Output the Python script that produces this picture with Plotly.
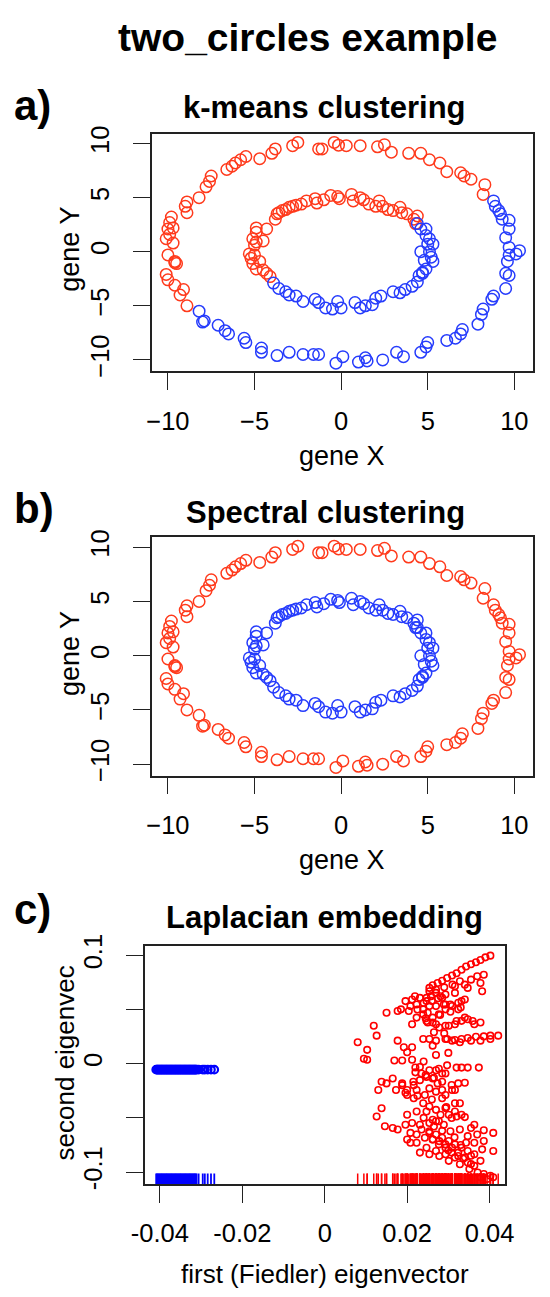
import plotly.graph_objects as go

# ---------------- data: panels a/b (gene X, gene Y) ----------------
# outer ring, points assigned to red cluster by k-means
outer_red_x = [-2.5, -2.8, -3.8, -4.0, -4.7, -5.5, -5.8, -6.1, -6.3, -6.6, -7.5, -7.6, -7.8, -8.2, -8.9, -9.0,
               -8.9, -9.8, -9.9, -10.0, -10.1, -9.7, -10.0, -9.6, -9.5, -10.1, -10.0, -9.6, -9.1, -9.3, -8.9,
               -9.9, -9.7, -9.6,
               -1.3, -1.1, -0.4, -0.15, 0.3, 1.1, 2.1, 2.5, 2.9, 3.9, 4.6, 5.1, 5.7, 6.1, 6.9, 7.1, 7.5, 8.3, 8.2]
outer_red_y = [10.1, 9.8, 9.5, 9.1, 8.6, 8.8, 8.5, 8.2, 7.9, 7.6, 7.0, 6.5, 6.0, 5.0, 4.6, 4.2,
               3.6, 3.2, 2.7, 2.1, 1.2, 0.8, -0.3, -0.9, -1.1, -2.1, -2.6, -3.1, -3.5, -4.0, -5.0,
               1.6, 2.2, -1.0,
               9.5, 9.5, 10.1, 9.85, 9.8, 9.8, 9.7, 9.9, 9.2, 9.1, 9.1, 8.5, 8.2, 7.4, 7.3, 7.0, 6.7, 6.2, 5.3]
# outer ring, points assigned to blue cluster by k-means
outer_blue_x = [8.8, 8.9, 9.1, 9.2, 9.3, 9.7, 9.7, 9.5, 9.7, 10.3, 10.1, 9.7, 9.6, 9.5, 9.7, 9.5, 8.8, 8.7,
                8.2, 8.1, 7.9, 7.0, 6.9, 6.6, 6.1, 5.0, 4.9, 4.6, 3.6, 3.2, 2.4, 1.4, 1.5, 1.0, 0.1, -0.3,
                -1.3, -1.6, -2.2, -3.0, -3.7, -4.6, -4.6, -5.6, -5.5, -6.5, -6.7, -7.1, -7.9, -8.2, -8.0]
outer_blue_y = [4.7, 4.2, 3.8, 3.5, 3.0, 2.9, 2.1, 1.3, 0.4, 0.1, -0.2, -0.3, -0.9, -2.0, -2.2, -3.4, -4.1, -4.4,
                -5.3, -5.8, -6.7, -7.2, -7.6, -8.0, -8.2, -8.4, -8.8, -9.3, -9.7, -9.3, -10.0, -9.8, -10.1, -10.2,
                -9.7, -10.3, -9.5, -9.5, -9.5, -9.3, -9.6, -8.9, -9.3, -8.0, -8.4, -7.6, -7.3, -6.8, -6.4, -5.5, -6.5]
# inner ring, red by k-means
inner_red_x = [-3.7, -3.8, -3.6, -3.4, -3.2, -3.0, -2.8, -2.6, -2.3, -2.0, -1.5, -1.4, -1.0, -0.6, -0.2, -0.1,
               0.6, 0.7, 1.1, 1.3, 1.6, 2.0, 2.2, 2.4, 2.7, 3.0, 3.4, 3.5, 3.8, 4.2, 4.4, 4.3,
               -4.3, -4.9, -4.9, -5.1, -4.9, -4.5, -5.3, -5.0, -5.1, -4.9, -4.5, -4.3, -4.1, -4.7, -5.0, -5.2]
inner_red_y = [3.5, 3.0, 3.6, 3.8, 3.9, 4.1, 4.2, 4.3, 4.4, 4.7, 4.9, 4.5, 4.8, 5.2, 5.1, 4.9,
               5.3, 4.7, 5.0, 4.8, 4.4, 4.2, 4.7, 4.2, 3.9, 3.8, 4.1, 3.6, 3.5, 3.0, 3.3, 2.6,
               2.1, 2.2, 1.8, 1.2, 0.9, 1.0, -0.2, -0.3, -1.1, -1.6, -1.7, -2.0, -2.3, -0.9, 0.6, -0.6]
# inner ring, blue by k-means
inner_blue_x = [-3.9, -3.6, -3.2, -3.0, -2.6, -2.2, -1.5, -1.3, -0.9, -0.5, -0.2, 0.0, 0.8, 1.1, 1.4, 1.8,
                2.0, 2.3, 3.0, 3.4, 3.7, 4.1, 4.4, 4.5, 4.7, 4.9, 4.8, 5.2, 5.3, 5.1, 5.0, 5.3, 4.9, 4.9,
                4.6, 4.4, 4.7, 4.6, 5.1]
inner_blue_y = [-2.9, -3.4, -3.7, -4.0, -4.1, -4.6, -4.4, -4.7, -5.2, -5.3, -4.6, -5.2, -4.7, -5.2, -5.0, -4.9,
                -4.3, -4.1, -3.7, -3.8, -3.5, -3.2, -2.8, -2.2, -1.9, -1.6, -0.8, -0.5, -0.9, 0.0, 0.7, 0.7,
                1.5, 2.1, 2.1, 2.6, -2.0, 0.0, 1.2]

# ---------------- data: panel c (Laplacian embedding) ----------------
fiedler_blue = [-0.0409, -0.0407, -0.0405, -0.0403, -0.0401, -0.0399, -0.0397, -0.0395, -0.0393, -0.0391,
                -0.0389, -0.0387, -0.0385, -0.0383, -0.0381, -0.0379, -0.0377, -0.0375, -0.0373, -0.0371,
                -0.0369, -0.0367, -0.0365, -0.0363, -0.0361, -0.0359, -0.0357, -0.0355, -0.0353, -0.0351,
                -0.0349, -0.0347, -0.0345, -0.0343, -0.0341, -0.0339, -0.0337, -0.0335, -0.0333, -0.0331,
                -0.0329, -0.0327, -0.0325, -0.0323, -0.0321, -0.0319, -0.0317, -0.0315, -0.0313, -0.0311,
                -0.0306, -0.0296, -0.0291, -0.0284, -0.0276, -0.0268]
second_blue = [-0.0055] * len(fiedler_blue)

# red cluster, values in thousandths
fiedler_red_k = [40.2, 39.0, 37.8, 36.7, 35.5, 34.3, 33.2, 32.0, 30.9, 29.7, 28.5, 27.4, 26.2, 25.4, 37.8, 38.2,
                 34.7, 31.6, 29.3, 27.0, 28.1, 25.4, 24.7, 23.1, 21.9, 21.2, 19.6, 22.3, 20.8, 18.5, 17.7, 15.0,
                 20.4, 23.9, 25.4, 27.0, 28.9, 30.5, 32.4, 34.0, 23.9, 22.3, 24.7, 26.2, 21.2, 27.8, 30.1, 32.0,
                 34.0, 35.9, 11.9, 12.6, 17.7, 8.0, 10.3, 9.5, 10.3, 19.2, 21.2, 23.9, 25.4, 27.0, 29.7, 31.6,
                 33.2, 34.7, 36.7, 38.6, 40.2, 42.1, 26.2, 20.0, 16.9, 18.8, 21.2, 23.1, 23.5, 25.4, 27.0, 29.7,
                 32.0, 33.2, 34.7, 37.4, 13.8, 15.0, 16.5, 18.8, 13.0, 17.3, 21.6, 23.1, 24.7, 22.3, 25.4, 27.4,
                 28.5, 30.9, 32.4, 34.0, 20.0, 19.6, 24.3, 21.6, 23.9, 28.5, 31.6, 32.8, 13.8, 12.6, 20.0, 22.3,
                 24.7, 25.4, 27.0, 28.1, 30.1, 32.0, 34.0, 36.3, 14.6, 16.5, 17.7, 19.6, 21.2, 23.1, 25.4, 27.0,
                 28.9, 30.5, 32.8, 34.7, 38.6, 40.9, 20.8, 22.3, 24.3, 26.2, 27.8, 29.3, 30.9, 32.4, 33.6, 34.7,
                 36.3, 37.1, 38.6, 40.2, 40.9, 22.3, 24.7, 27.0, 29.3, 31.6, 36.3, 38.2, 40.9, 34.3, 25.4, 23.5,
                 20.0, 20.8, 23.1, 25.4, 27.8, 30.1, 32.8, 35.1, 37.8, 39.4,
                 26.0, 27.5, 24.0, 22.5, 25.0, 28.0, 30.5, 33.0, 29.0, 31.0, 24.5, 26.5, 29.0, 22.0, 24.5, 26.5,
                 28.5, 22.5, 26.0, 29.5, 24.0, 26.5, 28.5, 31.5, 33.0, 30.0, 35.5, 22.0, 24.0, 27.0, 30.0,
                 24.7, 25.8, 27.0, 28.5, 29.3, 30.9, 32.4, 33.2, 31.6, 32.8, 34.0, 35.5, 37.0, 38.6, 25.0, 27.0,
                 29.3, 31.6, 33.2, 34.7, 36.3, 37.8, 29.3, 30.9, 32.8, 35.5, 37.8, 40.2, 29.3, 27.7, 26.2,
                 25.4, 27.0, 28.5, 30.1, 31.6, 33.2, 34.7, 36.3, 37.8, 26.2, 27.7, 29.3, 30.8, 32.4, 34.0, 35.5,
                 31.6, 33.2, 29.3, 30.8, 27.7, 26.2, 37.0, 38.6, 35.5,
                 27.7, 29.3, 26.2, 28.5, 30.8, 27.0, 29.3, 31.6, 20.0, 18.8, 21.5]
second_red_k = [99.8, 98.2, 95.8, 93.7, 91.8, 89.7, 86.7, 83.6, 81.5, 79.1, 76.6, 74.5, 72.4, 70.0, 74.5, 66.9,
                70.0, 65.4, 63.9, 68.4, 62.3, 66.9, 60.8, 60.8, 62.3, 59.3, 57.8, 54.7, 53.2, 50.2, 48.7, 47.1,
                48.7, 50.2, 53.2, 53.2, 54.7, 54.7, 56.3, 59.3, 45.6, 42.6, 39.5, 38.0, 36.5, 33.5, 35.0, 39.5,
                42.6, 39.5, 35.0, 25.9, 21.3, 19.8, 12.8, 4.6, 3.6, 15.2, 15.2, 22.8, 22.8, 21.3, 22.8, 21.9,
                22.8, 23.7, 24.9, 25.2, 25.9, 25.9, 16.7, 10.6, 3.0, 3.0, 3.6, -3.0, -9.1, -6.1, -6.1, -1.5,
                -3.6, -3.6, -3.6, -3.6, -16.7, -18.2, -13.7, -19.8, -24.3, -24.3, -19.8, -15.2, -12.2, -24.3, -22.8, -18.2,
                -24.3, -24.3, -18.2, -17.6, -28.9, -26.8, -28.9, -31.9, -36.5, -31.9, -36.5, -36.5, -41.1, -48.7, -47.1, -44.1,
                -44.1, -39.5, -42.6, -47.1, -47.1, -48.7, -49.3, -56.3, -57.8, -59.3, -60.8, -56.3, -54.7, -56.3, -54.7, -53.2,
                -56.3, -62.3, -60.8, -66.9, -61.4, -63.9, -63.9, -65.4, -68.4, -70.0, -71.5, -74.5, -77.6, -82.1, -87.6, -91.2,
                -94.3, -100.4, -101.9, -103.4, -104.9, -73.0, -77.6, -80.6, -83.6, -86.7, -73.0, -79.1, -80.6, -73.0, -63.9, -60.8,
                -70.0, -73.0, -82.1, -83.6, -85.2, -89.7, -92.8, -97.3, -104.9, -106.4,
                58.0, 60.5, 56.0, 50.0, 47.0, 45.0, 48.0, 52.0, 70.5, 73.0, 42.0, 29.0, 28.0, -8.0, -10.5, -13.0,
                -9.0, -29.5, -33.0, -40.0, -50.0, -58.0, -62.0, -68.0, -75.0, -80.0, -85.0, -3.5, 2.0, 8.0, 10.0,
                57.8, 62.4, 65.4, 60.9, 54.7, 53.3, 50.2, 57.8, 71.5, 76.1, 73.0, 77.6, 80.7, 82.1, 38.0, 36.5,
                35.0, 36.5, 39.6, 41.1, 36.5, 38.0, 22.8, 21.3, 19.8, 21.3, 21.3, 22.8, 50.2, 45.6, 42.6,
                -62.3, -65.3, -68.4, -71.4, -74.5, -77.5, -80.6, -83.6, -89.7, -69.9, -74.5, -77.5, -82.1, -85.2, -86.7, -92.7,
                -44.1, -47.1, -41.0, -50.2, -53.2, -51.7, -65.3, -71.4, -59.3,
                -4.6, -9.1, -13.7, -16.7, -19.7, -25.8, -28.9, -24.3, -24.3, -18.2, -16.7]
fiedler_red = [v / 1000 for v in fiedler_red_k]
second_red = [v / 1000 for v in second_red_k]
RUG_Y = -0.1072

x_ticks_ab = [-10, -5, 0, 5, 10]
y_ticks_ab = [-10, -5, 0, 5, 10]
x_ticks_c = [-0.04, -0.02, 0, 0.02, 0.04]
x_labels_c = ["-0.04", "-0.02", "0", "0.02", "0.04"]
y_ticks_c = [-0.1, -0.05, 0, 0.05, 0.1]
y_labels_c = ["-0.1", "", "0", "", "0.1"]

RED = "rgb(255,58,28)"
BLUE = "rgb(38,60,252)"
FONT = "Liberation Sans, Arial, Helvetica, sans-serif"

W, H = 550, 1297
OFF = 8  # page body margin shifts the figure by 8 px; positions below are reference pixels


def px(x):
    return (x - OFF) / W


def py(y):
    return 1 - (y - OFF) / H


fig = go.Figure()


def ring(xs, ys, color, ax):
    fig.add_trace(go.Scatter(x=xs, y=ys, mode="markers", xaxis="x" + ax, yaxis="y" + ax,
                             marker=dict(symbol="circle-open", size=11.5, color=color,
                                         line=dict(width=1.5, color=color)),
                             showlegend=False, hoverinfo="skip"))


# panel a: k-means
ring(outer_red_x + inner_red_x, outer_red_y + inner_red_y, RED, "")
ring(outer_blue_x + inner_blue_x, outer_blue_y + inner_blue_y, BLUE, "")
# panel b: spectral
ring(outer_red_x + outer_blue_x, outer_red_y + outer_blue_y, RED, "2")
ring(inner_red_x + inner_blue_x, inner_red_y + inner_blue_y, BLUE, "2")

# panel c
fig.add_trace(go.Scatter(x=fiedler_blue, y=second_blue, mode="markers", xaxis="x3", yaxis="y3",
                         marker=dict(symbol="circle-open", size=7.5, color="#0000ff",
                                     line=dict(width=2.2, color="#0000ff")),
                         showlegend=False, hoverinfo="skip"))
fig.add_trace(go.Scatter(x=fiedler_red, y=second_red, mode="markers", xaxis="x3", yaxis="y3",
                         marker=dict(symbol="circle-open", size=6.5, color="#ff0000",
                                     line=dict(width=1.6, color="#ff0000")),
                         showlegend=False, hoverinfo="skip"))
fig.add_trace(go.Scatter(x=fiedler_blue, y=[RUG_Y] * len(fiedler_blue), mode="markers", xaxis="x3", yaxis="y3",
                         marker=dict(symbol="line-ns", size=9, line=dict(width=1.8, color="#0000ff")),
                         showlegend=False, hoverinfo="skip"))
fig.add_trace(go.Scatter(x=fiedler_red, y=[RUG_Y] * len(fiedler_red), mode="markers", xaxis="x3", yaxis="y3",
                         marker=dict(symbol="line-ns", size=9, line=dict(width=1.5, color="#ff0000")),
                         showlegend=False, hoverinfo="skip"))

tickfont = dict(family=FONT, size=25.5, color="black")
common = dict(showgrid=False, zeroline=False, showline=True, mirror=True, linecolor="#222",
              linewidth=1.6, ticks="outside", ticklen=17, tickwidth=1.4, tickcolor="#222",
              tickfont=tickfont, fixedrange=True)

xdom_ab = [px(143.3), px(541.7)]
fig.update_layout(
    width=W, height=H, margin=dict(l=0, r=0, t=0, b=0),
    paper_bgcolor="white", plot_bgcolor="white",
    xaxis=dict(domain=xdom_ab, range=[-10.94, 11.1], tickvals=x_ticks_ab, anchor="y",
               ticklabelstandoff=9, **common),
    yaxis=dict(domain=[py(364.3), py(123.3)], range=[-11.06, 10.91], tickvals=y_ticks_ab, anchor="x",
               tickangle=-90, ticklabelstandoff=14, **common),
    xaxis2=dict(domain=xdom_ab, range=[-10.94, 11.1], tickvals=x_ticks_ab, anchor="y2",
                ticklabelstandoff=9, **common),
    yaxis2=dict(domain=[py(774.3), py(532.7)], range=[-11.06, 10.91], tickvals=y_ticks_ab, anchor="x2",
                tickangle=-90, ticklabelstandoff=14, **common),
    xaxis3=dict(domain=[px(136), px(512.3)], range=[-0.0437, 0.0438], tickvals=x_ticks_c,
                ticktext=x_labels_c, anchor="y3", ticklabelstandoff=9, **common),
    yaxis3=dict(domain=[py(1188.3), py(946.7)], range=[-0.111, 0.109], tickvals=y_ticks_c,
                ticktext=y_labels_c, anchor="x3", tickangle=-90, ticklabelstandoff=14, **common),
)

anns = []


def text(x, y, s, size, bold=False, angle=0, xanchor="center"):
    anns.append(dict(x=px(x), y=py(y), xref="paper", yref="paper", text=("<b>%s</b>" % s) if bold else s,
                     showarrow=False, textangle=angle, xanchor=xanchor, yanchor="middle",
                     font=dict(family=FONT, size=size, color="black")))


text(306, 26, "two_circles example", 39, bold=True)
text(-2, 95, "a)", 42, bold=True, xanchor="left")
text(324, 97, "k-means clustering", 31, bold=True)
text(342, 450, "gene X", 27)
text(58, 240, "gene Y", 27, angle=-90)
text(-2, 503, "b)", 42, bold=True, xanchor="left")
text(325, 507, "Spectral clustering", 31, bold=True)
text(342, 860, "gene X", 27)
text(58, 650, "gene Y", 27, angle=-90)
text(-2, 910, "c)", 42, bold=True, xanchor="left")
text(324, 918, "Laplacian embedding", 31, bold=True)
text(324, 1280, "first (Fiedler) eigenvector", 26)
text(53, 1066, "second eigenvec", 26, angle=-90)
fig.update_layout(annotations=anns)

fig.write_html("out.html")
